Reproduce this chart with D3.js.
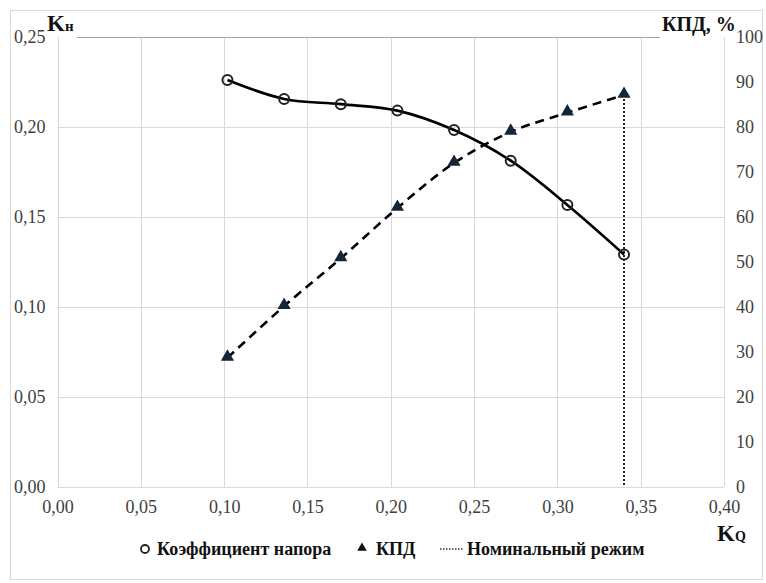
<!DOCTYPE html>
<html>
<head>
<meta charset="utf-8">
<script src="https://cdn.jsdelivr.net/npm/d3@7"></script>
<style>
  body { margin: 0; background: #fff; }
</style>
</head>
<body>
<div id="chart"></div>
<script>
// Данные
let kq = [0.102, 0.136, 0.170, 0.204, 0.238, 0.272, 0.306, 0.340];
let kh = [0.2261, 0.2156, 0.2127, 0.2091, 0.1983, 0.1813, 0.1567, 0.1292];
let kpd = [28.7, 40.2, 50.8, 62.0, 72.0, 78.9, 83.2, 87.1];
let nominal = 0.34;

let xTicks = [0, 0.05, 0.10, 0.15, 0.20, 0.25, 0.30, 0.35, 0.40];
let yLeftTicks = [0, 0.05, 0.10, 0.15, 0.20, 0.25];
let yRightTicks = [0, 10, 20, 30, 40, 50, 60, 70, 80, 90, 100];

let legendLabels = ['Коэффициент напора', 'КПД', 'Номинальный режим'];

let FONT = '"Liberation Serif", "DejaVu Serif", serif';

let config = {
      width: 766,
      height: 583,
      left: 57.5,
      right: 724,
      top: 37,
      bottom: 487
};

let fmt = v => d3.format('.2f')(v).replace('.', ',');

let svg = d3.select('#chart')
      .append('svg')
      .attr('width', config.width)
      .attr('height', config.height)
      .style('font-family', FONT);

// рамка диаграммы
svg.append('rect')
      .attr('x', 10.5).attr('y', 10.5)
      .attr('width', 752).attr('height', 569)
      .attr('fill', 'none')
      .attr('stroke', '#d9d9d9');

let xScale = d3.scaleLinear().domain([0, 0.40]).range([config.left, config.right]);
let yLeft = d3.scaleLinear().domain([0, 0.25]).range([config.bottom, config.top]);
let yRight = d3.scaleLinear().domain([0, 100]).range([config.bottom, config.top]);

// сетка
let grid = svg.append('g');
grid.selectAll('.vg').data(xTicks).enter().append('line')
      .attr('x1', d => Math.round(xScale(d)) + 0.5).attr('x2', d => Math.round(xScale(d)) + 0.5)
      .attr('y1', config.top).attr('y2', config.bottom)
      .attr('stroke', '#d9d9d9');
grid.selectAll('.hg').data(yLeftTicks.slice(0, -1)).enter().append('line')
      .attr('x1', config.left).attr('x2', config.right)
      .attr('y1', d => Math.round(yLeft(d)) + 0.5).attr('y2', d => Math.round(yLeft(d)) + 0.5)
      .attr('stroke', '#d9d9d9');
// верхняя линия
grid.append('line')
      .attr('x1', 77).attr('x2', 660)
      .attr('y1', Math.round(yLeft(0.25)) + 0.5).attr('y2', Math.round(yLeft(0.25)) + 0.5)
      .attr('stroke', '#9aa6b2').attr('stroke-width', 1.2);

// подписи осей
let xAxis = d3.axisBottom(xScale).tickValues(xTicks).tickFormat(fmt).tickSize(0).tickPadding(13);
svg.append('g').attr('class', 'ax').attr('transform', `translate(0,${config.bottom})`).call(xAxis);

let yAxisL = d3.axisLeft(yLeft).tickValues(yLeftTicks).tickFormat(fmt).tickSize(0).tickPadding(12);
svg.append('g').attr('class', 'ax').attr('transform', `translate(${config.left},0)`).call(yAxisL);

let yAxisR = d3.axisRight(yRight).tickValues(yRightTicks).tickSize(0).tickPadding(12);
svg.append('g').attr('class', 'ax').attr('transform', `translate(${config.right},0)`).call(yAxisR);

svg.selectAll('.domain').remove();
svg.selectAll('.ax')
      .attr('font-family', null)
      .attr('font-size', 18);
svg.selectAll('.ax .tick text')
      .attr('fill', '#404040');

// названия осей
let kn = svg.append('text').attr('x', 47).attr('y', 31)
      .attr('font-weight', 'bold').attr('fill', '#111');
kn.append('tspan').attr('font-size', 23).text('K');
kn.append('tspan').attr('font-size', 15).text('н');

svg.append('text').attr('x', 662).attr('y', 31)
      .attr('font-weight', 'bold').attr('font-size', 20).attr('fill', '#111')
      .text('КПД, %');

let kqLabel = svg.append('text').attr('x', 717).attr('y', 541)
      .attr('font-weight', 'bold').attr('fill', '#111');
kqLabel.append('tspan').attr('font-size', 23).text('K');
kqLabel.append('tspan').attr('font-size', 14).text('Q');

// номинальный режим
svg.append('line')
      .attr('x1', xScale(nominal)).attr('x2', xScale(nominal))
      .attr('y1', yRight(kpd[kpd.length - 1])).attr('y2', config.bottom)
      .attr('stroke', '#222').attr('stroke-width', 2)
      .attr('stroke-dasharray', '2,2');

// кривые
let khData = kq.map((d, i) => ({x: d, y: kh[i]}));
let kpdData = kq.map((d, i) => ({x: d, y: kpd[i]}));

let lineKh = d3.line().x(d => xScale(d.x)).y(d => yLeft(d.y)).curve(d3.curveCatmullRom.alpha(0.5));
let lineKpd = d3.line().x(d => xScale(d.x)).y(d => yRight(d.y)).curve(d3.curveCatmullRom.alpha(0.5));

svg.append('path').datum(kpdData)
      .attr('d', lineKpd)
      .attr('fill', 'none').attr('stroke', '#000')
      .attr('stroke-width', 2.6).attr('stroke-dasharray', '9,6');

svg.append('path').datum(khData)
      .attr('d', lineKh)
      .attr('fill', 'none').attr('stroke', '#000')
      .attr('stroke-width', 2.6);

// маркеры
let tri = d3.symbol().type(d3.symbolTriangle).size(75);
svg.selectAll('.tri').data(kpdData).enter().append('path')
      .attr('d', tri)
      .attr('transform', d => `translate(${xScale(d.x)},${yRight(d.y) - 1})`)
      .attr('fill', '#15253a');

svg.selectAll('.circ').data(khData).enter().append('circle')
      .attr('cx', d => xScale(d.x)).attr('cy', d => yLeft(d.y))
      .attr('r', 5)
      .attr('fill', 'none').attr('stroke', '#222').attr('stroke-width', 2);

// легенда
let legend = svg.append('g').attr('transform', 'translate(0,549)');
legend.append('circle').attr('cx', 145).attr('cy', 0).attr('r', 4)
      .attr('fill', 'none').attr('stroke', '#222').attr('stroke-width', 1.8);
legend.append('path').attr('d', d3.symbol().type(d3.symbolTriangle).size(40))
      .attr('transform', 'translate(362,-1)').attr('fill', '#111');
legend.append('line').attr('x1', 440).attr('x2', 464).attr('y1', 0).attr('y2', 0)
      .attr('stroke', '#333').attr('stroke-width', 1.5).attr('stroke-dasharray', '1.5,1.5');

let lx = [157, 376, 467];
legend.selectAll('.lt').data(legendLabels).enter().append('text')
      .attr('x', (d, i) => lx[i]).attr('y', 6)
      .attr('font-size', 18).attr('font-weight', 'bold').attr('fill', '#111')
      .text(d => d);
</script>
</body>
</html>
